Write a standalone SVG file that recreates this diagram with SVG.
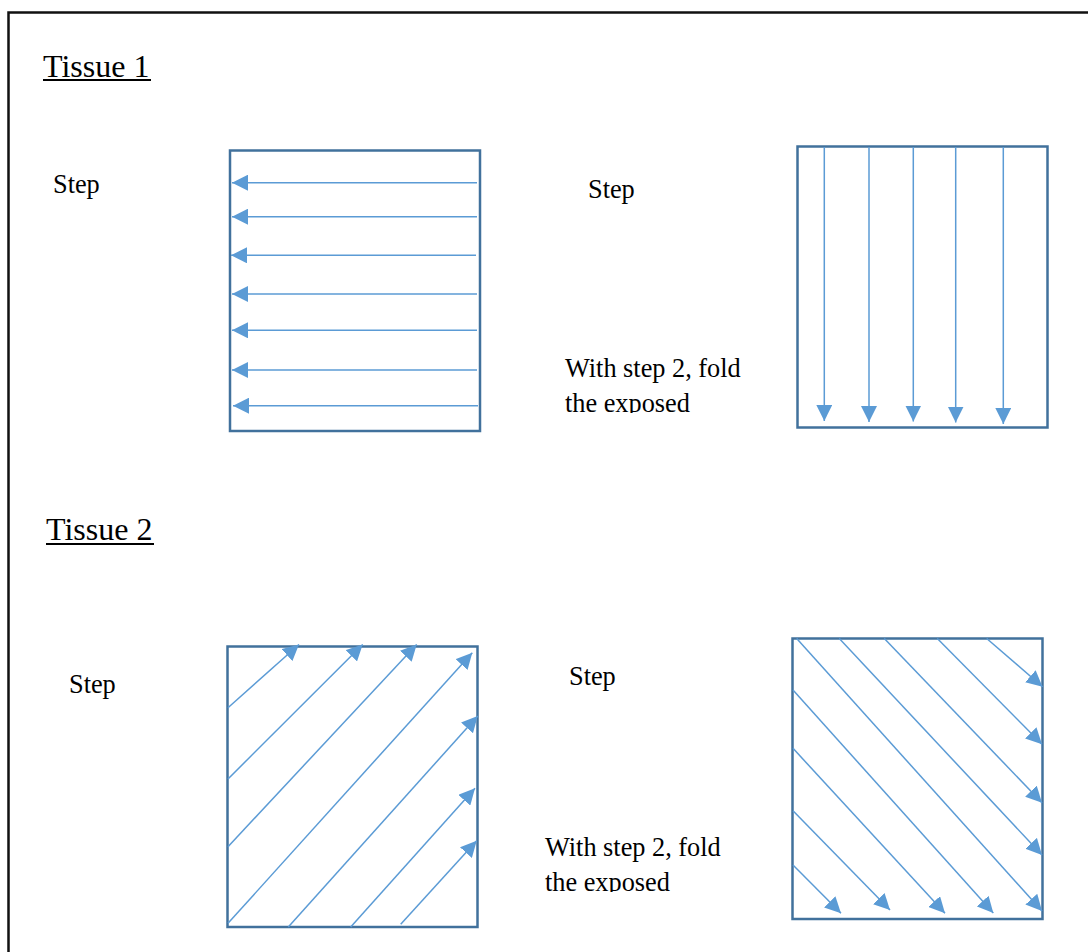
<svg xmlns="http://www.w3.org/2000/svg" width="1088" height="952" viewBox="0 0 1088 952">
<style>
.t{font-family:"Liberation Serif","Times New Roman",serif;fill:#000}
.h{font-size:32px}
.s{font-size:26.3px}
.box{fill:none;stroke:#41719C;stroke-width:2.5}
.ar{stroke:#5B9BD5;stroke-width:1.5;fill:none;marker-end:url(#ah)}
</style>
<defs>
<marker id="ah" markerUnits="userSpaceOnUse" markerWidth="16" markerHeight="16" viewBox="0 0 15 15" refX="15" refY="7.5" orient="auto">
<path d="M0,0 L15,7.5 L0,15 z" fill="#5B9BD5"/>
</marker>
<clipPath id="c1"><rect x="540" y="340" width="240" height="73"/></clipPath>
<clipPath id="c2"><rect x="520" y="820" width="240" height="72"/></clipPath>
</defs>
<rect width="1088" height="952" fill="#fff"/>
<rect x="8.5" y="12.5" width="1100" height="960" fill="none" stroke="#111" stroke-width="2.5"/>

<g id="tissue1-title"><text class="t h" x="43" y="77">Tissue 1</text><rect x="43" y="79" width="108" height="2" fill="#000"/></g>
<g id="tissue2-title"><text class="t h" x="46" y="540">Tissue 2</text><rect x="46" y="543" width="108" height="2" fill="#000"/></g>

<g id="label-step-1"><text class="t s" x="53" y="193">Step</text></g>
<g id="label-step-2"><text class="t s" x="588" y="198">Step</text></g>
<g id="label-step-3"><text class="t s" x="69" y="693">Step</text></g>
<g id="label-step-4"><text class="t s" x="569" y="685">Step</text></g>

<g id="note-1" clip-path="url(#c1)"><text class="t s" x="565" y="377">With step 2, fold</text><text class="t s" x="565" y="412">the exposed</text></g>
<g id="note-2" clip-path="url(#c2)"><text class="t s" x="545" y="856">With step 2, fold</text><text class="t s" x="545" y="891">the exposed</text></g>

<g id="box-1"><rect class="box" x="230" y="150.5" width="250" height="280.5"/></g>
<g id="box-2"><rect class="box" x="797.5" y="146.5" width="250" height="281"/></g>
<g id="box-3"><rect class="box" x="227.5" y="646.5" width="250" height="280.5"/></g>
<g id="box-4"><rect class="box" x="792.5" y="638.5" width="250" height="280.5"/></g>

<g id="connectors">
<line class="ar" x1="477" y1="182.7" x2="232" y2="182.7"/>
<line class="ar" x1="477" y1="216.7" x2="232" y2="216.7"/>
<line class="ar" x1="476" y1="255.3" x2="231" y2="255.3"/>
<line class="ar" x1="477" y1="294" x2="232" y2="294"/>
<line class="ar" x1="477" y1="330.3" x2="232" y2="330.3"/>
<line class="ar" x1="477" y1="370" x2="232" y2="370"/>
<line class="ar" x1="478" y1="405.7" x2="233" y2="405.7"/>

<line class="ar" x1="824.3" y1="147" x2="824.3" y2="421"/>
<line class="ar" x1="869" y1="147" x2="869" y2="422"/>
<line class="ar" x1="913.3" y1="147" x2="913.3" y2="421.5"/>
<line class="ar" x1="955.7" y1="147" x2="955.7" y2="422.5"/>
<line class="ar" x1="1003.3" y1="147" x2="1003.3" y2="424"/>

<line class="ar" x1="228" y1="707.7" x2="299" y2="644.5"/>
<line class="ar" x1="228" y1="779" x2="362.7" y2="644.5"/>
<line class="ar" x1="228" y1="846.7" x2="416.7" y2="644.5"/>
<line class="ar" x1="228" y1="923.3" x2="472.3" y2="652.7"/>
<line class="ar" x1="288.3" y1="927" x2="477.7" y2="716"/>
<line class="ar" x1="350.7" y1="927" x2="475" y2="788.3"/>
<line class="ar" x1="400.7" y1="924.3" x2="476.7" y2="840.7"/>

<line class="ar" x1="986.7" y1="638.5" x2="1042.5" y2="686.7"/>
<line class="ar" x1="937.3" y1="638.5" x2="1042" y2="744.3"/>
<line class="ar" x1="884.3" y1="638.5" x2="1042" y2="802.7"/>
<line class="ar" x1="839.3" y1="638.5" x2="1042" y2="855"/>
<line class="ar" x1="796.7" y1="638.5" x2="1042" y2="911"/>
<line class="ar" x1="793" y1="690" x2="993.3" y2="913"/>
<line class="ar" x1="793" y1="748.3" x2="945" y2="913.3"/>
<line class="ar" x1="793" y1="810.7" x2="890" y2="910"/>
<line class="ar" x1="793" y1="865" x2="841" y2="913.3"/>
</g>
</svg>
